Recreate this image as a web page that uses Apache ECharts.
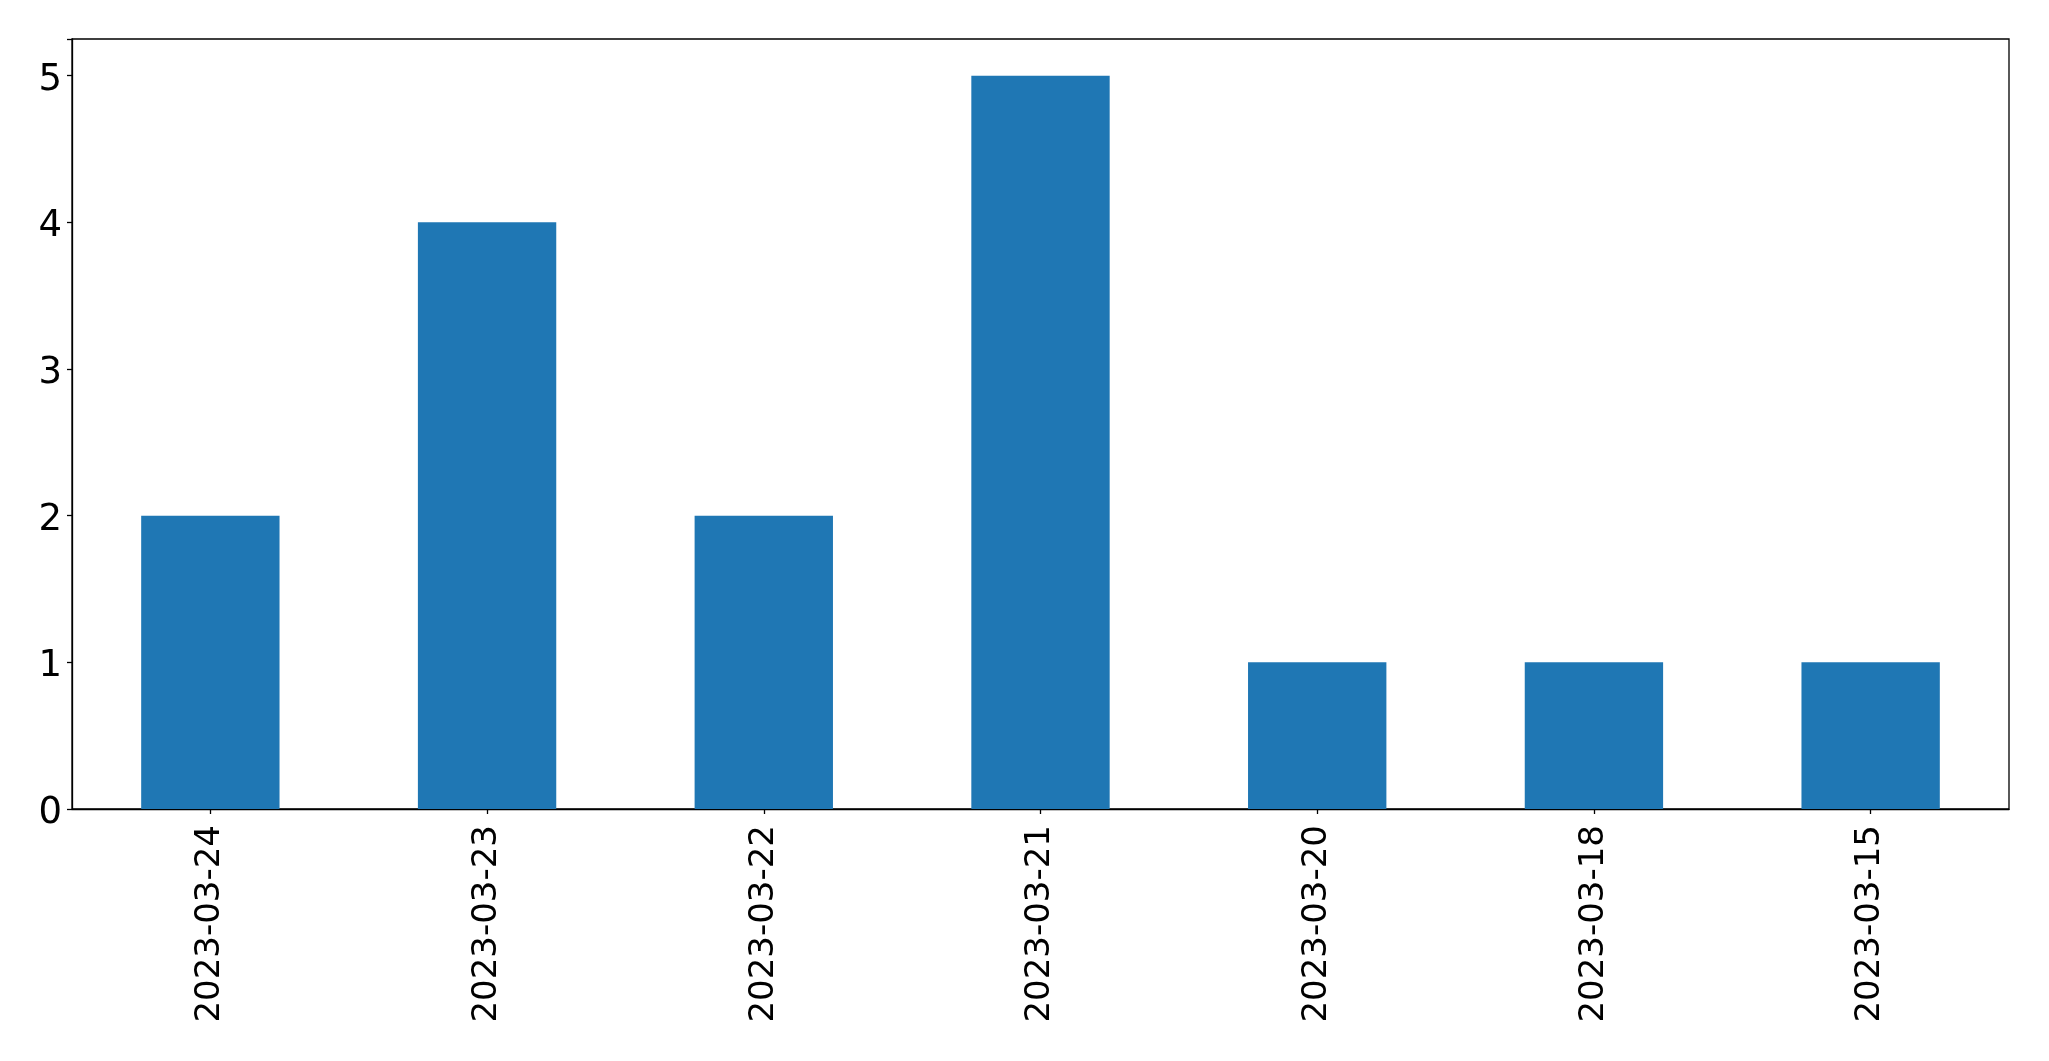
<!DOCTYPE html>
<html>
<head>
<meta charset="utf-8">
<script src="https://cdn.jsdelivr.net/npm/echarts@6/dist/echarts.min.js"></script>
<style>
  html, body { margin: 0; padding: 0; background: #fff; }
  #chart { width: 2049px; height: 1061px; }
</style>
</head>
<body>
<div id="chart"></div>
<script>
const dates = ['2023-03-24', '2023-03-23', '2023-03-22', '2023-03-21', '2023-03-20', '2023-03-18', '2023-03-15']
const counts = [2, 4, 2, 5, 1, 1, 1]
const yTicks = [0, 1, 2, 3, 4, 5]

const font = 'DejaVu Sans'

const chart = echarts.init(document.getElementById('chart'))
chart.setOption({
  animation: false,
  backgroundColor: '#fff',
  grid: {
    left: 72,
    right: 40,
    top: 39,
    bottom: 252,
    show: true,
    borderColor: '#000',
    borderWidth: 1.3,
    backgroundColor: 'transparent'
  },
  xAxis: {
    type: 'category',
    data: dates,
    axisLine: { show: true, lineStyle: { color: '#000', width: 1.3 } },
    axisTick: { show: true, alignWithLabel: true, length: 5, lineStyle: { color: '#000', width: 1.3 } },
    axisLabel: {
      rotate: 90,
      margin: 16,
      color: '#000',
      fontFamily: font,
      fontSize: 34,
      interval: 0
    },
    splitLine: { show: false }
  },
  yAxis: {
    type: 'value',
    min: 0,
    max: 5.25,
    interval: 1,
    axisLine: { show: true, lineStyle: { color: '#000', width: 1.3 } },
    axisTick: { show: true, length: 5, lineStyle: { color: '#000', width: 1.3 } },
    axisLabel: {
      margin: 10,
      color: '#000',
      fontFamily: font,
      fontSize: 37,
      formatter: function (v) { return yTicks.indexOf(v) >= 0 ? '{t|' + v + '}' : '' },
      rich: {
        t: { fontFamily: font, fontSize: 37, color: '#000', padding: [9, 0, 0, 0] }
      }
    },
    splitLine: { show: false }
  },
  series: [{
    type: 'bar',
    data: counts,
    barWidth: '50%',
    itemStyle: { color: '#1f77b4' }
  }]
})
</script>
</body>
</html>
